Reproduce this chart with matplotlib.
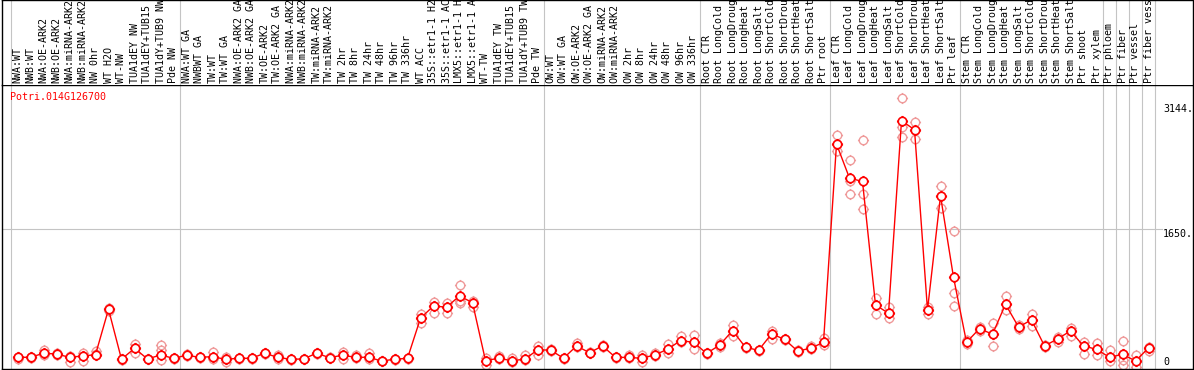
import matplotlib
matplotlib.use("Agg")
import numpy as np
import matplotlib.pyplot as plt
from matplotlib.path import Path

# ---------------- data ----------------
gene_id = "Potri.014G126700"

sample_labels = [
    "NWA:WT", "NWB:WT", "NWA:OE-ARK2", "NWB:OE-ARK2", "NWA:miRNA-ARK2", "NWB:miRNA-ARK2",
    "NW 0hr", "WT H2O", "WT-NW", "TUA1dEY NW", "TUA1dEY+TUB15 NW", "TUA1dY+TUB9 NW", "Pde NW",
    "NWA:WT GA", "NWBWT GA", "TW:WT", "TW:WT GA", "NWA:OE-ARK2 GA", "NWB:OE-ARK2 GA",
    "TW:OE-ARK2", "TW:OE-ARK2 GA", "NWA:miRNA-ARK2 GA", "NWB:miRNA-ARK2 GA", "TW:miRNA-ARK2",
    "TW:miRNA-ARK2 GA", "TW 2hr", "TW 8hr", "TW 24hr", "TW 48hr", "TW 96hr", "TW 336hr",
    "WT ACC", "35S::etr1-1 H2O", "35S::etr1-1 ACC", "LMX5::etr1-1 H2O", "LMX5::etr1-1 ACC",
    "WT-TW", "TUA1dEY TW", "TUA1dEY+TUB15 TW", "TUA1dY+TUB9 TW", "Pde TW",
    "OW:WT", "OW:WT GA", "OW:OE-ARK2", "OW:OE-ARK2 GA", "OW:miRNA-ARK2", "OW:miRNA-ARK2 GA",
    "OW 2hr", "OW 8hr", "OW 24hr", "OW 48hr", "OW 96hr", "OW 336hr",
    "Root CTR", "Root LongCold", "Root LongDrought", "Root LongHeat", "Root LongSalt",
    "Root ShortCold", "Root ShortDrought", "Root ShortHeat", "Root ShortSalt", "Ptr root",
    "Leaf CTR", "Leaf LongCold", "Leaf LongDrought", "Leaf LongHeat", "Leaf LongSalt",
    "Leaf ShortCold", "Leaf ShortDrought", "Leaf ShortHeat", "Leaf ShortSalt", "Ptr leaf",
    "Stem CTR", "Stem LongCold", "Stem LongDrought", "Stem LongHeat", "Stem LongSalt",
    "Stem ShortCold", "Stem ShortDrought", "Stem ShortHeat", "Stem ShortSalt", "Ptr shoot",
    "Ptr xylem", "Ptr phloem", "Ptr fiber", "Ptr vessel", "Ptr fiber vessel",
]

# group sizes (separated by grey vertical lines)
group_sizes = [13, 28, 12, 10, 10, 11, 1, 1, 1, 1]

mean_values = [
    116, 116, 164, 155, 116, 131, 147, 689, 92, 223, 96, 143, 104,
    140, 116, 123, 92, 104, 104, 164, 116, 92, 96, 164, 112, 140, 116, 116, 72, 92, 104,
    582, 729, 713, 848, 768, 76, 104, 76, 92, 203,
    203, 104, 251, 171, 251, 115, 115, 104, 143, 211, 315, 295,
    163, 259, 434, 235, 199, 394, 331, 191, 223, 295,
    2661, 2254, 2214, 741, 641, 2939, 2832, 681, 2043, 1071,
    295, 458, 391, 749, 478, 562, 251, 335, 430, 251, 211,
    116, 152, 72, 227,
]

replicate_values = [
    [125, 116, 100], [122, 116, 108], [203, 155, 140], [162, 155, 148], [130, 116, 63],
    [171, 131, 75], [187, 155, 140], [708, 689, 673], [96, 92, 88], [271, 223, 164],
    [100, 96, 92], [263, 203, 84], [108, 104, 100],
    [150, 140, 130], [120, 116, 112], [179, 123, 92], [116, 92, 60], [108, 104, 100],
    [108, 104, 100], [170, 164, 158], [139, 116, 100], [96, 92, 88], [100, 96, 92],
    [170, 164, 158], [118, 112, 106], [179, 140, 92], [139, 116, 105], [163, 116, 92],
    [76, 72, 68], [96, 92, 88], [108, 104, 100], [629, 582, 522], [781, 729, 641],
    [761, 713, 649], [980, 789, 761], [789, 768, 721], [104, 76, 24], [131, 104, 96],
    [104, 76, 64], [143, 92, 80], [251, 203, 143],
    [211, 203, 185], [110, 104, 98], [291, 251, 243], [178, 171, 165], [258, 251, 244],
    [120, 115, 110], [143, 115, 108], [143, 104, 64], [171, 143, 135], [275, 211, 163],
    [370, 315, 300], [382, 295, 211],
    [170, 163, 156], [283, 259, 240], [502, 434, 370], [242, 235, 228], [206, 199, 192],
    [430, 394, 331], [338, 331, 324], [198, 191, 184], [251, 223, 215], [343, 295, 263],
    [2772, 2661, 2581], [2473, 2214, 2063], [2712, 2063, 1884], [828, 741, 630],
    [720, 641, 589], [3210, 2859, 2744], [2923, 2832, 2720], [720, 681, 630],
    [2163, 2043, 1903], [1617, 881, 729],
    [320, 295, 270], [482, 458, 434], [529, 391, 254], [848, 749, 681], [502, 478, 450],
    [630, 562, 490], [263, 251, 240], [355, 335, 303], [462, 430, 370], [303, 251, 155],
    [283, 211, 140],
    [203, 116, 76], [314, 152, 84, 24], [143, 72, 4], [243, 227, 195],
]

axis_labels = ["3144.", "1650.", "0"]
axis_label_values = [3144, 1650, 0]
grid_value = 1650

# ---------------- layout ----------------
W, H = 1194, 370
fig = plt.figure(figsize=(W / 100, H / 100), dpi=100)
fig.patch.set_facecolor("white")


def rect(x0, y0, x1, y1):
    return [x0 / W, 1 - y1 / H, (x1 - x0) / W, (y1 - y0) / H]


PX0, PX1 = 2, 1193
STEP, FIRST = 13.0, 17.5
xlim = ((PX0 - FIRST) / STEP, (PX1 - FIRST) / STEP)
Y0PX, SCALE = 367.0, 0.0838  # pixel of value 0, pixels per unit
ylim = ((Y0PX - 369) / SCALE, (Y0PX - 85) / SCALE)

ax = fig.add_axes(rect(PX0, 85, PX1, 369))
hax = fig.add_axes(rect(PX0, 0, PX1, 85))

FONT = "DejaVu Sans Mono"
FS = 7.2
GRID = "#c4c4c4"

for a in (ax, hax):
    a.set_xlim(*xlim)
    a.set_xticks([])
    a.set_yticks([])
    for s in a.spines.values():
        s.set_color("black")
        s.set_linewidth(1.0)
hax.spines["bottom"].set_visible(False)
ax.set_ylim(*ylim)
hax.set_ylim(0, 1)

# group separators
b = 0
bounds = [0]
for g in group_sizes:
    b += g
    bounds.append(b)
for bb in bounds:
    for a in (ax, hax):
        a.axvline(bb - 0.5, color=GRID, lw=0.8, zorder=1)

ax.axhline(grid_value, xmin=0, xmax=(1162 - PX0) / (PX1 - PX0), color=GRID, lw=0.8, zorder=1)

# custom marker: polygonal circle with four small ticks
ang = np.linspace(0, 2 * np.pi, 41)
circ_pts = list(zip(np.cos(ang), np.sin(ang)))
tk = 1.32
verts = circ_pts + [(0, 1), (0, tk), (0, -1), (0, -tk), (1, 0), (tk, 0), (-1, 0), (-tk, 0)]
codes = ([Path.MOVETO] + [Path.LINETO] * (len(circ_pts) - 2) + [Path.CLOSEPOLY]
         + [Path.MOVETO, Path.LINETO] * 4)
mk = Path(verts, codes)

# replicates
for i, reps in enumerate(replicate_values):
    ax.plot([i] * len(reps), reps, ls="none", marker=mk, ms=8.0, mfc="none",
            mec="#ef9a9a", mew=1.0, zorder=2)

xs = list(range(len(mean_values)))
ax.plot(xs, mean_values, color="red", lw=1.0, marker=mk, ms=8.0, mfc="white",
        mec="red", mew=1.2, zorder=3)

# gene id
ax.text((10 - PX0) / (PX1 - PX0), 1 - (92 - 85) / 284, gene_id, transform=ax.transAxes,
        color="red", fontsize=FS, family=FONT, va="top", ha="left")

# right value labels
xl = (1163 - FIRST) / STEP
for lab, v in zip(axis_labels, axis_label_values):
    ax.text(xl, v, lab, fontsize=FS, family=FONT, color="black",
            va="bottom" if v == 0 else "top", ha="left", zorder=5)

# header labels (clipped at the top edge, as in the original)
for i, lab in enumerate(sample_labels):
    hax.text(i, 2 / 85, lab, transform=hax.get_xaxis_transform(), rotation=90,
             fontsize=FS, family=FONT, va="bottom", ha="center", clip_on=True)

fig.savefig("out.png", dpi=100, facecolor="white")
